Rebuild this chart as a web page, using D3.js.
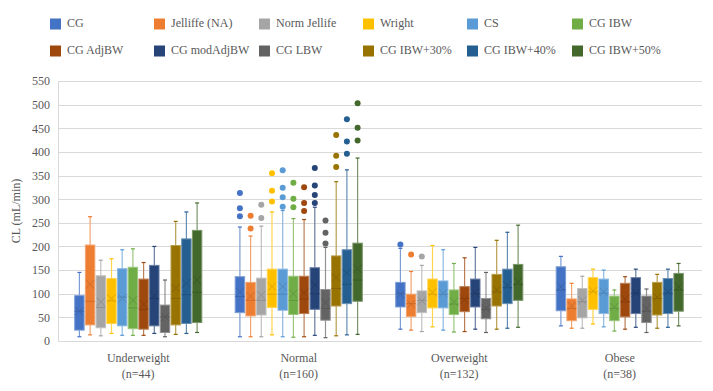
<!DOCTYPE html>
<html><head><meta charset="utf-8">
<script src="https://cdn.jsdelivr.net/npm/d3@7"></script>
<style>body{margin:0;background:#fff}svg{display:block}svg text{font-family:"Liberation Serif","Times New Roman",serif !important}</style>
</head><body><svg id="c" width="713" height="391"></svg>
<script>
const categories = ["Underweight", "Normal", "Overweight", "Obese"];
const categoryN = ["(n=44)", "(n=160)", "(n=132)", "(n=38)"];
const seriesNames = ["CG", "Jelliffe (NA)", "Norm Jellife", "Wright", "CS", "CG IBW",
  "CG AdjBW", "CG modAdjBW", "CG LBW", "CG IBW+30%", "CG IBW+40%", "CG IBW+50%"];
const seriesColors = ["#4472C4", "#ED7D31", "#A5A5A5", "#FFC000", "#5B9BD5", "#70AD47",
  "#9E480E", "#264478", "#636363", "#997300", "#255E91", "#43682B"];
const yTicks = [0, 50, 100, 150, 200, 250, 300, 350, 400, 450, 500, 550];

// [series][category]
const whiskerLow = [[9,9,25,32],[13,9,23,27],[11,9,20,27],[16,13,30,36],[12,9,23,30],[12,8,19,21],
  [12,9,20,25],[16,12,25,29],[9,7,18,18],[14,11,25,27],[16,13,27,29],[18,14,29,32]];
const q1 = [[23,60,72,64],[34,53,52,43],[28,55,60,49],[37,71,70,67],[32,65,70,58],[26,56,56,43],
  [25,58,62,51],[32,67,72,58],[18,44,47,39],[34,74,74,55],[37,79,79,58],[39,84,86,63]];
const median = [[63,94,100,108],[84,86,79,69],[71,86,86,83],[85,99,99,104],[93,99,99,101],[70,86,78,69],
  [67,89,90,83],[90,100,100,101],[51,69,67,63],[90,111,104,90],[98,120,113,101],[103,129,120,108]];
const q3 = [[96,136,124,157],[203,124,99,89],[138,133,106,111],[132,152,131,134],[153,152,127,131],[156,137,108,95],
  [131,137,115,122],[160,155,131,134],[76,109,90,95],[202,180,141,124],[216,193,152,132],[234,207,162,143]];
const whiskerHigh = [[145,241,196,179],[263,222,147,122],[171,243,160,137],[174,273,202,152],[193,276,193,150],[195,259,164,108],
  [166,257,176,136],[200,283,198,152],[129,198,145,110],[253,337,213,141],[273,362,230,152],[292,387,245,164]];
const mean = [[63,104,99,115],[120,95,78,74],[83,97,85,86],[90,115,103,106],[90,115,101,104],[86,100,83,72],
  [78,102,88,89],[96,118,102,102],[51,81,69,69],[112,134,108,93],[122,144,118,104],[129,153,125,115]];
const outliers = [
  [[],[313,281,264],[204],[]],
  [[],[265,238],[183],[]],
  [[],[288,260],[179],[]],
  [[],[355,318,295],[],[]],
  [[],[361,324,304,284],[],[]],
  [[],[335,301,283],[],[]],
  [[],[325,292,275],[],[]],
  [[],[366,329,309,292],[],[]],
  [[],[255,229,206],[],[]],
  [[],[436,392,368],[],[]],
  [[],[469,422,396],[],[]],
  [[],[503,451,424],[],[]]
];

const svg = d3.select("#c");
const pLeft = 58, pRight = 700, pTop = 81, pBottom = 341;
const y = d3.scaleLinear().domain([0, 550]).range([pBottom, pTop]);
const x = d3.scaleBand().domain(categories).range([pLeft, pRight]).paddingInner(0).paddingOuter(0);
const inner = d3.scaleBand().domain(d3.range(seriesNames.length))
  .range([0, x.bandwidth() * 0.8]).paddingInner(0.12).paddingOuter(0.06);
const groupOff = x.bandwidth() * 0.1;

// gridlines
svg.append("g").selectAll("line").data(yTicks.filter(d => d > 0)).join("line")
  .attr("x1", pLeft).attr("x2", pRight + 2)
  .attr("y1", d => Math.round(y(d)) + 0.5).attr("y2", d => Math.round(y(d)) + 0.5)
  .attr("stroke", "#D9D9D9").attr("stroke-width", 1);

// y axis
const yAxis = d3.axisLeft(y).tickValues(yTicks).tickSize(0).tickPadding(8);
const ya = svg.append("g").attr("transform", `translate(${pLeft},0)`).call(yAxis);
ya.attr("font-family", null);
ya.select(".domain").attr("stroke", "#D9D9D9");
ya.selectAll("text").attr("fill", "#595959").style("font-size", "12px");

// x axis
const xAxis = d3.axisBottom(x).tickSize(0).tickFormat(() => "");
const xa = svg.append("g").attr("transform", `translate(0,${Math.round(pBottom) + 0.5})`).call(xAxis);
xa.select(".domain").attr("stroke", "#D9D9D9").attr("d", `M${pLeft},0H${pRight + 2}`);
const lab = svg.append("g");
categories.forEach((c, i) => {
  const cx = x(c) + x.bandwidth() / 2;
  lab.append("text").attr("x", cx).attr("y", 362).attr("text-anchor", "middle")
    .attr("fill", "#595959").style("font-size", "12px").text(c);
  lab.append("text").attr("x", cx).attr("y", 378).attr("text-anchor", "middle")
    .attr("fill", "#595959").style("font-size", "12px").text(categoryN[i]);
});

// y title
svg.append("text").attr("transform", `translate(17,${(pTop + pBottom) / 2}) rotate(-90)`)
  .attr("text-anchor", "middle").attr("dominant-baseline", "middle")
  .attr("fill", "#595959").style("font-size", "12px").text("CL (mL/min)");

// boxes
const plot = svg.append("g");
seriesNames.forEach((s, si) => {
  const col = seriesColors[si];
  const light = d3.interpolateRgb(col, "#ffffff")(0.3);
  const dark = d3.color(col).darker(0.4).formatHex();
  categories.forEach((c, ci) => {
    const bx = x(c) + groupOff + inner(si);
    const bw = inner.bandwidth();
    const cx = bx + bw / 2;
    const g = plot.append("g");
    g.append("line").attr("x1", cx).attr("x2", cx).attr("y1", y(whiskerHigh[si][ci])).attr("y2", y(q3[si][ci]))
      .attr("stroke", light).attr("stroke-width", 1.2);
    g.append("line").attr("x1", cx).attr("x2", cx).attr("y1", y(q1[si][ci])).attr("y2", y(whiskerLow[si][ci]))
      .attr("stroke", light).attr("stroke-width", 1.2);
    [whiskerHigh[si][ci], whiskerLow[si][ci]].forEach(v => {
      g.append("line").attr("x1", cx - 2).attr("x2", cx + 2).attr("y1", y(v)).attr("y2", y(v))
        .attr("stroke", col).attr("stroke-width", 1.2);
    });
    g.append("rect").attr("x", bx).attr("y", y(q3[si][ci])).attr("width", bw)
      .attr("height", y(q1[si][ci]) - y(q3[si][ci]))
      .attr("fill", col).attr("stroke", light).attr("stroke-width", 1);
    g.append("line").attr("x1", bx).attr("x2", bx + bw).attr("y1", y(median[si][ci])).attr("y2", y(median[si][ci]))
      .attr("stroke", dark).attr("stroke-width", 1);
    const my = y(mean[si][ci]), r = 4;
    g.append("path").attr("d", `M${cx - r},${my - r}L${cx + r},${my + r}M${cx - r},${my + r}L${cx + r},${my - r}`)
      .attr("stroke", dark).attr("stroke-width", 1).attr("fill", "none");
    g.selectAll("circle").data(outliers[si][ci]).join("circle")
      .attr("cx", cx).attr("cy", d => y(d)).attr("r", 3).attr("fill", col);
  });
});

// legend
const legX = [50, 154, 259, 363, 467, 572];
const legY = [24, 51];
const leg = svg.append("g");
seriesNames.forEach((s, i) => {
  const lx = legX[i % 6], ly = legY[Math.floor(i / 6)];
  leg.append("rect").attr("x", lx).attr("y", ly - 5.5).attr("width", 11).attr("height", 11).attr("fill", seriesColors[i]);
  leg.append("text").attr("x", lx + 17).attr("y", ly).attr("dominant-baseline", "middle")
    .attr("fill", "#595959").style("font-size", "12px").text(s);
});
</script></body></html>
